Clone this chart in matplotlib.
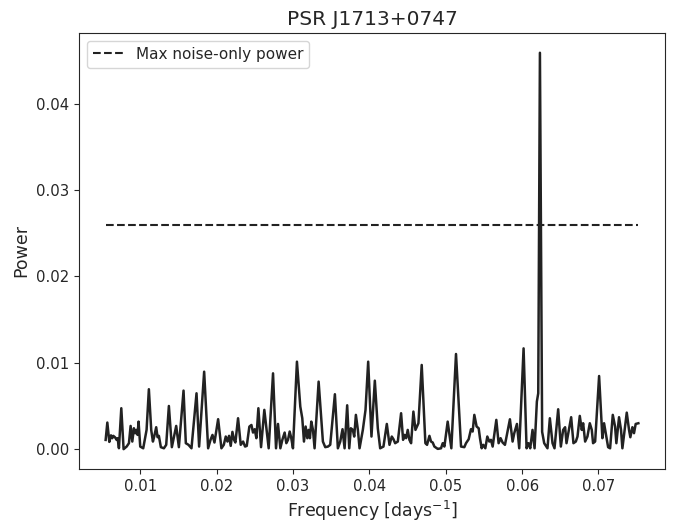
import matplotlib
matplotlib.use("Agg")
import matplotlib.pyplot as plt

# periodogram
freq = [0.00546, 0.00568, 0.00594, 0.00616, 0.00633, 0.00646, 0.00668, 0.00690,
        0.00703, 0.00720, 0.00751, 0.00781, 0.00821, 0.00851, 0.00873, 0.00895,
        0.00916, 0.00934, 0.00951, 0.00964, 0.00977, 0.00999, 0.01038, 0.01082,
        0.01112, 0.01143, 0.01165, 0.01182, 0.01208, 0.01226, 0.01243, 0.01269,
        0.01309, 0.01339, 0.01374, 0.01413, 0.01470, 0.01505, 0.01566, 0.01596,
        0.01631, 0.01670, 0.01736, 0.01770, 0.01836, 0.01888, 0.01919, 0.01945,
        0.01971, 0.02019, 0.02062, 0.02093, 0.02119, 0.02141, 0.02162, 0.02184,
        0.02206, 0.02228, 0.02245, 0.02280, 0.02315, 0.02346, 0.02372, 0.02394,
        0.02428, 0.02455, 0.02476, 0.02498, 0.02520, 0.02546, 0.02581, 0.02624,
        0.02681, 0.02738, 0.02777, 0.02803, 0.02834, 0.02860, 0.02890, 0.02912,
        0.02934, 0.02956, 0.02977, 0.02999, 0.03051, 0.03095, 0.03121, 0.03143,
        0.03165, 0.03187, 0.03204, 0.03221, 0.03239, 0.03261, 0.03282, 0.03335,
        0.03391, 0.03422, 0.03457, 0.03487, 0.03548, 0.03587, 0.03618, 0.03648,
        0.03675, 0.03709, 0.03736, 0.03757, 0.03783, 0.03801, 0.03823, 0.03849,
        0.03871, 0.03914, 0.03949, 0.03984, 0.04027, 0.04071, 0.04110, 0.04141,
        0.04184, 0.04228, 0.04263, 0.04293, 0.04315, 0.04337, 0.04372, 0.04415,
        0.04441, 0.04459, 0.04481, 0.04502, 0.04524, 0.04546, 0.04576, 0.04603,
        0.04642, 0.04685, 0.04733, 0.04755, 0.04786, 0.04807, 0.04829, 0.04851,
        0.04895, 0.04938, 0.04960, 0.04982, 0.05025, 0.05073, 0.05134, 0.05200,
        0.05243, 0.05265, 0.05300, 0.05330, 0.05352, 0.05374, 0.05404, 0.05431,
        0.05448, 0.05470, 0.05491, 0.05518, 0.05544, 0.05570, 0.05592, 0.05614,
        0.05662, 0.05692, 0.05718, 0.05744, 0.05775, 0.05840, 0.05875, 0.05897,
        0.05932, 0.05962, 0.06019, 0.06058, 0.06084, 0.06106, 0.06136, 0.06163,
        0.06193, 0.06211, 0.06233, 0.06262, 0.06289, 0.06332, 0.06363, 0.06398,
        0.06424, 0.06472, 0.06507, 0.06537, 0.06563, 0.06581, 0.06642, 0.06672,
        0.06703, 0.06725, 0.06755, 0.06781, 0.06799, 0.06825, 0.06855, 0.06886,
        0.06912, 0.06929, 0.06956, 0.07008, 0.07051, 0.07073, 0.07095, 0.07126,
        0.07152, 0.07187, 0.07217, 0.07234, 0.07269, 0.07295, 0.07313, 0.07370,
        0.07400, 0.07417, 0.07444, 0.07465, 0.07487, 0.07522]
power = [0.00107, 0.00308, 0.00084, 0.00160, 0.00127, 0.00154, 0.00138, 0.00107,
         0.00127, 0.00011, 0.00474, 0.00000, 0.00030, 0.00069, 0.00269, 0.00088,
         0.00242, 0.00184, 0.00223, 0.00165, 0.00319, 0.00030, 0.00010, 0.00223,
         0.00694, 0.00220, 0.00088, 0.00146, 0.00254, 0.00138, 0.00154, 0.00023,
         0.00010, 0.00050, 0.00500, 0.00023, 0.00269, 0.00023, 0.00678, 0.00069,
         0.00050, 0.00010, 0.00647, 0.00030, 0.00897, 0.00010, 0.00107, 0.00165,
         0.00077, 0.00347, 0.00010, 0.00050, 0.00146, 0.00088, 0.00154, 0.00038,
         0.00200, 0.00107, 0.00077, 0.00358, 0.00050, 0.00088, 0.00030, 0.00038,
         0.00261, 0.00280, 0.00192, 0.00231, 0.00127, 0.00474, 0.00023, 0.00455,
         0.00010, 0.00878, 0.00010, 0.00292, 0.00010, 0.00108, 0.00192, 0.00069,
         0.00108, 0.00204, 0.00127, 0.00010, 0.01013, 0.00493, 0.00358, 0.00088,
         0.00262, 0.00127, 0.00223, 0.00127, 0.00319, 0.00223, 0.00010, 0.00782,
         0.00088, 0.00023, 0.00030, 0.00050, 0.00636, 0.00010, 0.00088, 0.00231,
         0.00010, 0.00508, 0.00010, 0.00242, 0.00223, 0.00146, 0.00397, 0.00223,
         0.00010, 0.00223, 0.00454, 0.01013, 0.00146, 0.00793, 0.00242, 0.00010,
         0.00030, 0.00292, 0.00050, 0.00146, 0.00115, 0.00069, 0.00088, 0.00416,
         0.00108, 0.00165, 0.00127, 0.00223, 0.00108, 0.00069, 0.00435, 0.00223,
         0.00300, 0.00975, 0.00069, 0.00050, 0.00154, 0.00088, 0.00077, 0.00030,
         0.00003, 0.00010, 0.00069, 0.00030, 0.00319, 0.00010, 0.01102, 0.00030,
         0.00023, 0.00069, 0.00115, 0.00231, 0.00204, 0.00397, 0.00262, 0.00242,
         0.00127, 0.00010, 0.00050, 0.00010, 0.00146, 0.00088, 0.00108, 0.00030,
         0.00339, 0.00069, 0.00127, 0.00077, 0.00050, 0.00346, 0.00088, 0.00185,
         0.00292, 0.00010, 0.01167, 0.00010, 0.00069, 0.00010, 0.00223, 0.00010,
         0.00551, 0.00647, 0.04590, 0.00200, 0.00069, 0.00010, 0.00358, 0.00069,
         0.00010, 0.00462, 0.00030, 0.00223, 0.00254, 0.00069, 0.00370, 0.00069,
         0.00088, 0.00146, 0.00385, 0.00223, 0.00300, 0.00088, 0.00146, 0.00300,
         0.00223, 0.00069, 0.00088, 0.00847, 0.00127, 0.00300, 0.00185, 0.00023,
         0.00010, 0.00397, 0.00262, 0.00069, 0.00370, 0.00223, 0.00010, 0.00423,
         0.00223, 0.00138, 0.00254, 0.00185, 0.00292, 0.00300]
noise_max = 0.0260

plt.rcParams["font.family"] = "DejaVu Sans"
plt.rcParams["text.color"] = ".15"
plt.rcParams["axes.labelcolor"] = ".15"
plt.rcParams["xtick.color"] = ".15"
plt.rcParams["ytick.color"] = ".15"
plt.rcParams["axes.edgecolor"] = ".15"

fig = plt.figure(figsize=(6.73, 5.23), dpi=100)
ax = fig.add_axes([0.1174, 0.1033, 0.8707, 0.8337])

ax.plot(freq, power, color="#222222", lw=1.8)
ax.plot(freq, [noise_max] * len(freq), "--", color="#222222", lw=1.5,
        label="Max noise-only power")

ax.set_xticks([0.01, 0.02, 0.03, 0.04, 0.05, 0.06, 0.07])
ax.set_yticks([0.0, 0.01, 0.02, 0.03, 0.04])
ax.tick_params(labelsize=10.7)
ax.set_xlabel("Frequency [days$^{-1}$]", fontsize=12.5)
ax.set_ylabel("Power", fontsize=12.5)
ax.set_title("PSR J1713+0747", fontsize=14.5)
ax.legend(loc="upper left", fontsize=11)

fig.savefig("out.png", dpi=100)
